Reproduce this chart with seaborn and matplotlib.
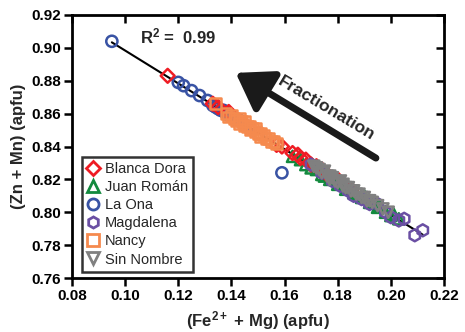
import numpy as np
import pandas as pd
import matplotlib
matplotlib.use("Agg")
import matplotlib.pyplot as plt
import matplotlib.lines as mlines
import seaborn as sns
from matplotlib.lines import Line2D

# ---- data ----
la_ona_x = [0.095, 0.120, 0.122, 0.125, 0.128, 0.131, 0.133, 0.134, 0.135, 0.136, 0.137, 0.138, 0.139,
            0.140, 0.141, 0.142, 0.143, 0.145, 0.147, 0.150, 0.159]
la_ona_y = [0.904, 0.879, 0.877, 0.874, 0.871, 0.868, 0.865, 0.864, 0.863, 0.862, 0.862, 0.860, 0.859,
            0.858, 0.857, 0.856, 0.856, 0.853, 0.851, 0.848, 0.824]

juan_x = [0.163, 0.166, 0.168, 0.170, 0.172, 0.174, 0.175, 0.177, 0.178, 0.180, 0.181, 0.183, 0.184,
          0.186, 0.187, 0.189, 0.190, 0.192, 0.193, 0.195, 0.196, 0.198, 0.200, 0.201, 0.203]
juan_y = [0.834, 0.832, 0.829, 0.827, 0.826, 0.823, 0.822, 0.820, 0.821, 0.817, 0.818, 0.814, 0.815,
          0.812, 0.811, 0.809, 0.810, 0.806, 0.806, 0.803, 0.804, 0.800, 0.798, 0.799, 0.796]

blanca_x = [0.116, 0.133, 0.135, 0.139, 0.157, 0.159, 0.163, 0.165, 0.166, 0.168, 0.170, 0.172,
            0.174, 0.176, 0.180, 0.185]
blanca_y = [0.883, 0.866, 0.864, 0.861, 0.841, 0.840, 0.836, 0.835, 0.833, 0.832, 0.829, 0.828,
            0.826, 0.823, 0.820, 0.814]

magda_x = [0.170, 0.174, 0.178, 0.181, 0.184, 0.186, 0.189, 0.192, 0.195, 0.198, 0.200, 0.203,
           0.205, 0.209, 0.212]
magda_y = [0.829, 0.824, 0.819, 0.816, 0.813, 0.810, 0.808, 0.805, 0.805, 0.800, 0.797, 0.795,
           0.796, 0.786, 0.789]

sin_x = [0.171, 0.172, 0.173, 0.174, 0.175, 0.176, 0.177, 0.177, 0.178, 0.179, 0.180, 0.181, 0.182,
         0.182, 0.183, 0.184, 0.185, 0.186, 0.187, 0.188, 0.189, 0.190, 0.191, 0.192, 0.193, 0.195,
         0.197, 0.199]
sin_y = [0.828, 0.827, 0.826, 0.824, 0.825, 0.822, 0.822, 0.820, 0.821, 0.819, 0.818, 0.819, 0.816,
         0.817, 0.815, 0.815, 0.813, 0.813, 0.811, 0.811, 0.809, 0.809, 0.807, 0.807, 0.806, 0.804,
         0.802, 0.800]

nancy_x = [0.134, 0.138, 0.139, 0.140, 0.141, 0.142, 0.143, 0.143, 0.144, 0.145, 0.145, 0.146, 0.147,
           0.147, 0.148, 0.149, 0.149, 0.150, 0.151, 0.151, 0.152, 0.153, 0.154, 0.155, 0.156, 0.157]
nancy_y = [0.866, 0.860, 0.858, 0.859, 0.857, 0.856, 0.857, 0.854, 0.855, 0.853, 0.855, 0.852, 0.852,
           0.850, 0.851, 0.849, 0.851, 0.848, 0.848, 0.846, 0.847, 0.845, 0.845, 0.843, 0.843, 0.842]

legend_order = ["Blanca Dora", "Juan Román", "La Ona", "Magdalena", "Nancy", "Sin Nombre"]
x_ticks = [0.08, 0.10, 0.12, 0.14, 0.16, 0.18, 0.20, 0.22]
y_ticks = [0.76, 0.78, 0.80, 0.82, 0.84, 0.86, 0.88, 0.90, 0.92]

groups = {
    "La Ona": (la_ona_x, la_ona_y),
    "Juan Román": (juan_x, juan_y),
    "Blanca Dora": (blanca_x, blanca_y),
    "Magdalena": (magda_x, magda_y),
    "Sin Nombre": (sin_x, sin_y),
    "Nancy": (nancy_x, nancy_y),
}
colors = {"Blanca Dora": "#EE1C24", "Juan Román": "#138A3E", "La Ona": "#3953A4",
          "Magdalena": "#6A4FA3", "Nancy": "#F58A4E", "Sin Nombre": "#808080"}
markers = {"Blanca Dora": "D", "Juan Román": "^", "La Ona": "o",
           "Magdalena": "h", "Nancy": "s", "Sin Nombre": "v"}
sizes = {"Blanca Dora": 50, "Juan Román": 65, "La Ona": 65,
         "Magdalena": 75, "Nancy": 60, "Sin Nombre": 65}

rows = []
for name, (xs, ys) in groups.items():
    for a, b in zip(xs, ys):
        rows.append((name, a, b))
df = pd.DataFrame(rows, columns=["site", "fe_mg", "zn_mn"])

# ---- style ----
sns.set_style("ticks")
plt.rcParams["font.family"] = ["Liberation Sans", "DejaVu Sans"]
plt.rcParams["mathtext.fontset"] = "custom"
plt.rcParams["mathtext.bf"] = "Liberation Sans:bold"
plt.rcParams["mathtext.rm"] = "Liberation Sans:bold"
plt.rcParams["mathtext.default"] = "bf"

fig = plt.figure(figsize=(4.65, 3.32), dpi=100)
ax = fig.add_axes([72 / 465, 1 - 278 / 332, 372 / 465, 263 / 332])

# regression line
sns.regplot(data=df, x="fe_mg", y="zn_mn", scatter=False, ci=None, truncate=True,
            color="black", line_kws=dict(lw=1.5, zorder=1), ax=ax)

for name, (xs, ys) in groups.items():
    sns.scatterplot(x=xs, y=ys, marker=markers[name], s=sizes[name], ax=ax,
                    facecolors="none", edgecolors=colors[name], linewidths=1.8,
                    zorder=3, legend=False)

ax.set_xlim(0.08, 0.22)
ax.set_ylim(0.76, 0.92)
ax.set_xticks(x_ticks)
ax.set_yticks(y_ticks)
ax.set_xticklabels([f"{v:.2f}" for v in x_ticks])
ax.set_yticklabels([f"{v:.2f}" for v in y_ticks])
ax.tick_params(direction="out", length=6, width=1.8, pad=2, colors="black", labelsize=11,
               top=True, right=True, labeltop=False, labelright=False)
for lab in ax.get_xticklabels() + ax.get_yticklabels():
    lab.set_fontweight("bold")
# top/right ticks point inward
for t in ax.xaxis.get_major_ticks():
    t.tick2line.set_marker(mlines.TICKDOWN)
for t in ax.yaxis.get_major_ticks():
    t.tick2line.set_marker(mlines.TICKLEFT)
for sp in ax.spines.values():
    sp.set_linewidth(2)
    sp.set_color("black")
    sp.set_visible(True)

ax.set_xlabel(r"(Fe$^{2+}$ + Mg) (apfu)", fontweight="bold", fontsize=12, labelpad=4)
ax.set_ylabel("(Zn + Mn) (apfu)", fontweight="bold", fontsize=12, labelpad=4)

ax.text(0.183, 0.893, r"R$^2$ =  0.99", transform=ax.transAxes, fontweight="bold", fontsize=12)
ax.annotate("", xy=(0.44, 0.78), xytext=(0.817, 0.456), xycoords="axes fraction",
            textcoords="axes fraction",
            arrowprops=dict(arrowstyle="-|>,head_length=0.9,head_width=0.6", lw=5,
                            color="#1a1a1a", mutation_scale=24, shrinkA=0, shrinkB=0))
ax.text(0.685, 0.645, "Fractionation", transform=ax.transAxes, fontweight="bold",
        fontsize=12.5, rotation=-31, ha="center", va="center", rotation_mode="anchor")

handles = [Line2D([], [], linestyle="none", marker=markers[n], markersize=8 if n != "Blanca Dora" else 7,
                  markerfacecolor="none", markeredgecolor=colors[n], markeredgewidth=2, label=n)
           for n in legend_order]
leg = ax.legend(handles=handles, loc="upper left", bbox_to_anchor=(0.027, 0.46), frameon=True,
                fancybox=False, edgecolor="black", fontsize=10.5, handlelength=0.8, handletextpad=0.4,
                labelspacing=0.28, borderpad=0.35, borderaxespad=0)
leg.get_frame().set_linewidth(1.8)

fig.savefig("out.png", dpi=100)
